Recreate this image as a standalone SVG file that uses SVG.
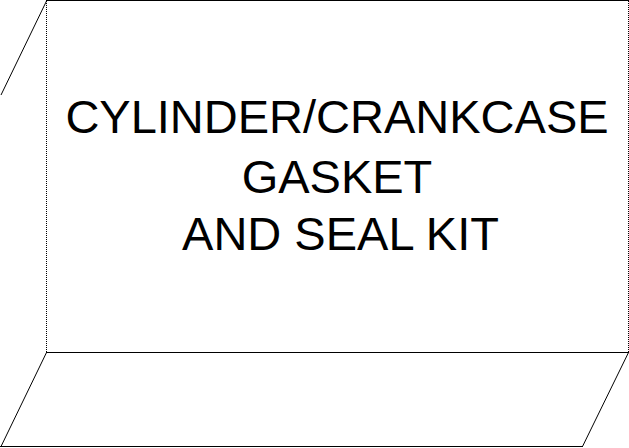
<svg xmlns="http://www.w3.org/2000/svg" width="629" height="448" viewBox="0 0 629 448">
<style>
.ln{stroke:#000;stroke-width:1;fill:none}
.dot{stroke:#000;stroke-width:1;fill:none;stroke-dasharray:1 1}
.t{font-family:"Liberation Sans",Arial,sans-serif;font-size:47px;fill:#000;text-anchor:middle}
</style>
<rect width="629" height="448" fill="#fff"/>
<g id="box">
<line class="ln" x1="46" y1="0.5" x2="629" y2="0.5"/>
<line class="ln" x1="46.5" y1="1" x2="1" y2="95"/>
<line class="dot" x1="46.5" y1="1" x2="46.5" y2="352"/>
<line class="dot" x1="628.5" y1="1" x2="628.5" y2="352"/>
<line class="ln" x1="46" y1="352.5" x2="629" y2="352.5"/>
<line class="ln" x1="46.5" y1="352.5" x2="1" y2="446.5"/>
<line class="ln" x1="0" y1="446.5" x2="583" y2="446.5"/>
<line class="ln" x1="628.5" y1="352.5" x2="582.5" y2="446.5"/>
</g>
<g id="label">
<text class="t" x="337" y="133">CYLINDER/CRANKCASE</text>
<text class="t" x="337" y="193">GASKET</text>
<text class="t" x="340.5" y="250">AND SEAL KIT</text>
</g>
</svg>
